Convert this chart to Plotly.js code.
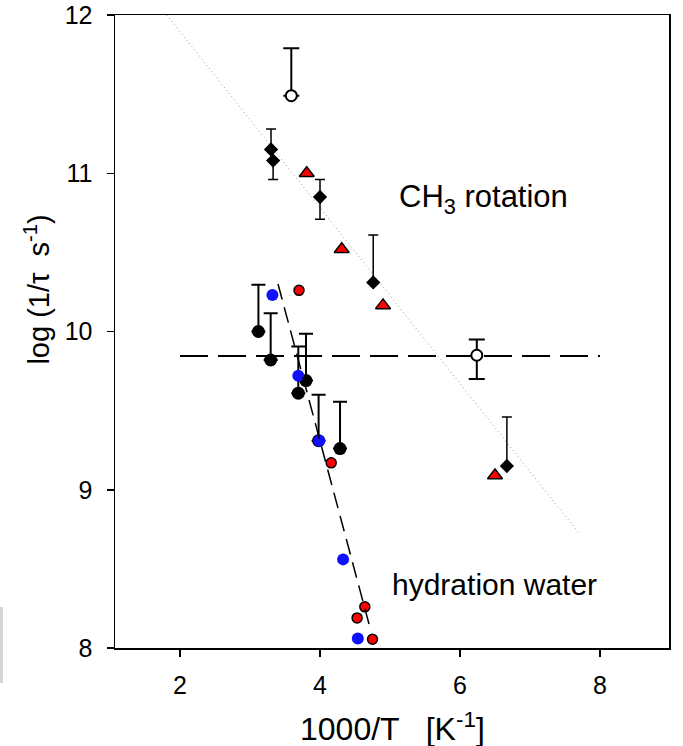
<!DOCTYPE html>
<html>
<head>
<meta charset="utf-8">
<script src="https://cdn.plot.ly/plotly-3.0.1.min.js"></script>
<style>html,body{margin:0;padding:0;background:#fff;}</style>
</head>
<body>
<div id="chart" style="width:683px;height:746px;"></div>
<script>
// CH3 rotation: black diamonds with error bars
const diamondX = [3.30, 3.33, 4.00, 4.76, 6.67];
const diamondY = [11.15, 11.08, 10.85, 10.31, 9.15];
const diamondErrPlus = [0.13, 0, 0.11, 0.30, 0.31];
const diamondErrMinus = [0, 0.12, 0.14, 0, 0];

// CH3 rotation: red triangles
const triangleX = [3.81, 4.31, 4.90, 6.50];
const triangleY = [11.00, 10.52, 10.165, 9.09];

// open circles with error bars
const openX = [3.59, 6.24];
const openY = [11.49, 9.85];
const openErrPlus = [0.30, 0.10];
const openErrMinus = [0, 0.15];

// hydration water: black circles with error bars
const blackX = [3.12, 3.295, 3.69, 3.80, 3.98, 4.286];
const blackY = [10.00, 9.82, 9.61, 9.69, 9.31, 9.26];
const blackErrPlus = [0.295, 0.295, 0.295, 0.295, 0.29, 0.296];
const blackErrMinus = [0, 0, 0, 0, 0, 0];

// hydration water: blue circles
const blueX = [3.32, 3.69, 3.99, 4.33, 4.54];
const blueY = [10.23, 9.72, 9.31, 8.56, 8.06];

// hydration water: red circles
const redX = [3.70, 4.16, 4.64, 4.53, 4.75];
const redY = [10.26, 9.17, 8.26, 8.19, 8.055];

// fit / guide lines
const ch3FitX = [1.81, 7.71];
const ch3FitY = [12.0, 8.72];
const flatX = [2.0, 8.0];
const flatY = [9.845, 9.845];
const hydFitX = [3.40, 4.71];
const hydFitY = [10.30, 8.135];

const xTicks = [2, 4, 6, 8];
const yTicks = [8, 9, 10, 11, 12];

const FONT = 'Liberation Sans, Arial, sans-serif';

const traces = [
  {x: blackX, y: blackY, type: 'scatter', mode: 'markers',
   marker: {color: '#000', size: 13},
   error_y: {type: 'data', symmetric: false, array: blackErrPlus, arrayminus: blackErrMinus,
             color: '#000', thickness: 2, width: 7}},
  {x: blueX, y: blueY, type: 'scatter', mode: 'markers',
   marker: {color: '#1010ff', size: 12}},
  {x: redX, y: redY, type: 'scatter', mode: 'markers',
   marker: {color: '#ff0000', size: 10, line: {color: '#000', width: 1.5}}},
  {x: hydFitX, y: hydFitY, type: 'scatter', mode: 'lines',
   line: {color: '#000', width: 1.5, dash: '16px,8px'}},
  {x: flatX, y: flatY, type: 'scatter', mode: 'lines',
   line: {color: '#000', width: 2, dash: '28px,10px'}},
  {x: ch3FitX, y: ch3FitY, type: 'scatter', mode: 'lines',
   line: {color: '#999', width: 1, dash: '1px,3px'}},
  {x: openX, y: openY, type: 'scatter', mode: 'markers',
   marker: {color: '#fff', size: 11, line: {color: '#000', width: 2}},
   error_y: {type: 'data', symmetric: false, array: openErrPlus, arrayminus: openErrMinus,
             color: '#000', thickness: 2, width: 8}},
  {x: diamondX, y: diamondY, type: 'scatter', mode: 'markers',
   marker: {color: '#000', size: 11, symbol: 'diamond'},
   error_y: {type: 'data', symmetric: false, array: diamondErrPlus, arrayminus: diamondErrMinus,
             color: '#000', thickness: 1.5, width: 5}},
  {x: triangleX, y: triangleY, type: 'scatter', mode: 'markers',
   marker: {color: '#ff0000', size: 13, symbol: 'triangle-up', line: {color: '#000', width: 1.5}}}
];

const layout = {
  width: 683, height: 746,
  margin: {l: 115, r: 14, t: 15, b: 98},
  paper_bgcolor: '#fff', plot_bgcolor: '#fff',
  showlegend: false,
  font: {family: FONT, color: '#000'},
  xaxis: {
    range: [1.071, 8.986], tickvals: xTicks, ticktext: xTicks.map(String),
    ticks: 'outside', ticklen: 7, tickwidth: 1.5, tickcolor: '#000',
    showline: true, linecolor: '#000', linewidth: 1.5, mirror: true,
    showgrid: false, zeroline: false, tickfont: {size: 25, family: FONT},
    ticklabelstandoff: 7
  },
  yaxis: {
    range: [8, 12], tickvals: yTicks, ticktext: yTicks.map(String),
    ticks: 'outside', ticklen: 7, tickwidth: 1.5, tickcolor: '#000',
    showline: true, linecolor: '#000', linewidth: 1.5, mirror: true,
    showgrid: false, zeroline: false, tickfont: {size: 25, family: FONT},
    ticklabelstandoff: 9
  },
  annotations: [
    {xref: 'x', yref: 'y', x: 6.34, y: 10.84, showarrow: false,
     text: 'CH<sub>3</sub> rotation',
     font: {size: 31, family: FONT}, xanchor: 'center', yanchor: 'middle'},
    {xref: 'x', yref: 'y', x: 6.49, y: 8.40, showarrow: false,
     text: 'hydration water',
     font: {size: 30, family: FONT}, xanchor: 'center', yanchor: 'middle'},
    {xref: 'paper', yref: 'paper', x: 0.5, y: -0.125, showarrow: false,
     text: '1000/T   [K<sup>-1</sup>]',
     font: {size: 32, family: FONT}, xanchor: 'center', yanchor: 'middle'},
    {xref: 'paper', yref: 'paper', x: -0.141, y: 0.566, showarrow: false,
     text: 'log (1/τ  s<sup>-1</sup>)', textangle: -90,
     font: {size: 29, family: FONT}, xanchor: 'center', yanchor: 'middle'}
  ],
  shapes: [
    {type: 'rect', xref: 'paper', yref: 'paper', x0: -0.2076, x1: -0.2022, y0: -0.0553, y1: 0.0648,
     fillcolor: '#d4d4d4', line: {width: 0}, layer: 'below'}
  ]
};

Plotly.newPlot('chart', traces, layout, {displayModeBar: false, staticPlot: true});
</script>
</body>
</html>
